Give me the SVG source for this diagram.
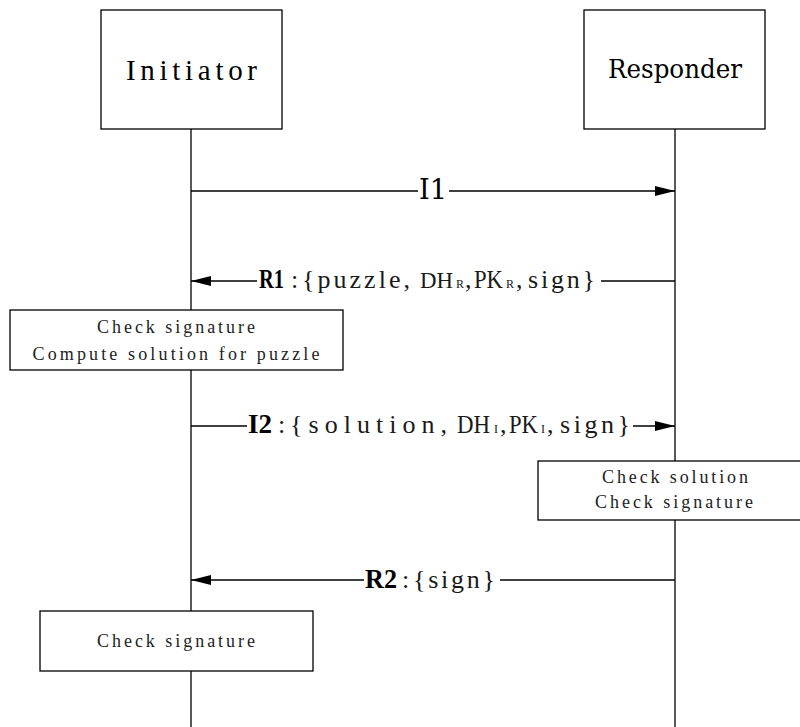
<svg xmlns="http://www.w3.org/2000/svg" width="800" height="727" viewBox="0 0 800 727">
  <style>
    .box { fill: #fff; stroke: #000; stroke-width: 1.3; }
    .line { stroke: #000; stroke-width: 1.3; fill: none; }
    .head { fill: #000; }
    .title { font-family: "Liberation Serif", serif; font-size: 29px; fill: #000; }
    .serif { font-family: "DejaVu Serif", "Liberation Serif", serif; fill: #000; }
    .msg { font-family: "Liberation Serif", serif; font-size: 26px; fill: #1a1a1a; }
    .bold { font-weight: bold; font-size: 27px; fill: #000; }
    .sub { font-size: 12px; }
    .note { font-family: "Liberation Serif", serif; font-size: 18px; fill: #222; text-anchor: middle; }
  </style>
  <defs>
    <marker id="arrow" markerWidth="20" markerHeight="10" refX="20" refY="5" orient="auto" markerUnits="userSpaceOnUse">
      <path d="M0,0 L20,5 L0,10 Z" class="head"/>
    </marker>
  </defs>

  <!-- lifelines -->
  <g id="lifelines">
    <line class="line" x1="191" y1="129" x2="191" y2="727"/>
    <line class="line" x1="675" y1="129" x2="675" y2="727"/>
  </g>

  <g id="initiator">
    <rect class="box" x="101" y="10" width="181" height="119"/>
    <text class="title" x="126" y="80" textLength="131" lengthAdjust="spacing">Initiator</text>
  </g>

  <g id="responder">
    <rect class="box" x="584" y="10" width="181" height="119"/>
    <text class="serif" x="608" y="78" font-size="26" textLength="134" lengthAdjust="spacingAndGlyphs">Responder</text>
  </g>

  <!-- message arrows -->
  <g id="connectors">
    <!-- I1 -->
    <line class="line" x1="191" y1="191" x2="418" y2="191"/>
    <line class="line" x1="449" y1="191" x2="675" y2="191" marker-end="url(#arrow)"/>
    <!-- R1 -->
    <line class="line" x1="675" y1="281" x2="601" y2="281"/>
    <line class="line" x1="257" y1="281" x2="191" y2="281" marker-end="url(#arrow)"/>
    <!-- I2 -->
    <line class="line" x1="191" y1="426" x2="247" y2="426"/>
    <line class="line" x1="633" y1="426" x2="675" y2="426" marker-end="url(#arrow)"/>
    <!-- R2 -->
    <line class="line" x1="675" y1="580" x2="500" y2="580"/>
    <line class="line" x1="364" y1="580" x2="191" y2="580" marker-end="url(#arrow)"/>
  </g>

  <!-- message labels -->
  <g id="label-i1">
    <text class="serif" x="419" y="199" font-size="28" textLength="28" lengthAdjust="spacingAndGlyphs">I1</text>
  </g>

  <g id="label-r1">
    <text class="msg" y="288"><tspan class="bold" x="259" font-size="25" textLength="25" lengthAdjust="spacingAndGlyphs">R1</tspan><tspan x="291">:</tspan><tspan x="302" textLength="108" lengthAdjust="spacing">{puzzle,</tspan><tspan x="420" font-size="24" textLength="33" lengthAdjust="spacingAndGlyphs">DH</tspan><tspan class="sub" x="456">R</tspan><tspan x="465">,</tspan><tspan x="474" textLength="29" lengthAdjust="spacingAndGlyphs">PK</tspan><tspan class="sub" x="506">R</tspan><tspan x="516">,</tspan><tspan x="528" textLength="67" lengthAdjust="spacing">sign}</tspan></text>
  </g>

  <g id="label-i2">
    <text class="msg" y="433"><tspan class="bold" x="248" textLength="24" lengthAdjust="spacingAndGlyphs">I2</tspan><tspan x="278">:</tspan><tspan x="290" textLength="157" lengthAdjust="spacing">{solution,</tspan><tspan x="457" textLength="33" lengthAdjust="spacingAndGlyphs">DH</tspan><tspan class="sub" x="494">I</tspan><tspan x="500">,</tspan><tspan x="509" textLength="29" lengthAdjust="spacingAndGlyphs">PK</tspan><tspan class="sub" x="541">I</tspan><tspan x="547">,</tspan><tspan x="560" textLength="70" lengthAdjust="spacing">sign}</tspan></text>
  </g>

  <g id="label-r2">
    <text class="msg" y="588"><tspan class="bold" x="365" font-size="30" textLength="32" lengthAdjust="spacingAndGlyphs">R2</tspan><tspan x="402">:</tspan><tspan x="413" textLength="82" lengthAdjust="spacing">{sign}</tspan></text>
  </g>

  <!-- processing notes -->
  <g id="note-initiator-1">
    <rect class="box" x="10" y="310" width="333" height="60"/>
    <text class="note" x="176" y="333" textLength="158" lengthAdjust="spacing">Check signature</text>
    <text class="note" x="176" y="360" textLength="287" lengthAdjust="spacing">Compute solution for puzzle</text>
  </g>

  <g id="note-responder">
    <rect class="box" x="538" y="461" width="274" height="59"/>
    <text class="note" x="675" y="483" textLength="146" lengthAdjust="spacing">Check solution</text>
    <text class="note" x="674" y="508" textLength="158" lengthAdjust="spacing">Check signature</text>
  </g>

  <g id="note-initiator-2">
    <rect class="box" x="40" y="611" width="273" height="60"/>
    <text class="note" x="176" y="647" textLength="158" lengthAdjust="spacing">Check signature</text>
  </g>
</svg>
